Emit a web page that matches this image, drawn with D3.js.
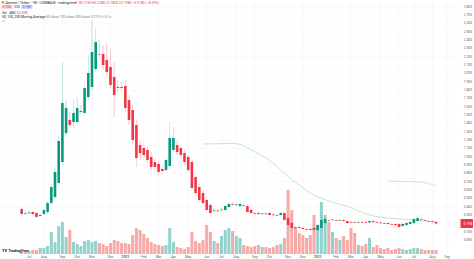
<!DOCTYPE html>
<html><head><meta charset="utf-8">
<script src="https://cdn.jsdelivr.net/npm/d3@7"></script>
<style>html,body{margin:0;padding:0;background:#fff;overflow:hidden}svg{display:block;font-family:Roboto,"Noto Sans",sans-serif}</style>
</head><body><svg id="c" width="474" height="259"></svg>
<script>
const startDate = "2021-06-21";
const opens = [.372,.324,.324,.336,.324,.288,.312,.336,.444,.516,
.684,.936,1.284,1.440,1.416,1.416,1.536,1.524,1.716,1.836,
2.052,2.232,2.232,2.160,2.076,1.956,1.836,1.836,1.848,1.680,
1.560,1.380,1.140,1.104,1.080,.996,.936,.912,.852,.840,
.888,1.080,1.140,1.104,1.044,.996,.936,.756,.636,.564,
.480,.420,.348,.354,.360,.360,.396,.432,.420,.408,
.420,.408,.360,.324,.324,.312,.318,.324,.306,.300,
.300,.324,.264,.204,.156,.156,.144,.132,.132,.144,
.120,.144,.204,.240,.240,.240,.234,.240,.228,.216,
.216,.210,.216,.216,.210,.228,.216,.210,.204,.204,
.192,.192,.192,.168,.180,.192,.204,.228,.252,.240,
.228,.222,.216];
const highs = [.396,.348,.348,.348,.336,.324,.372,.468,.672,.864,
1.260,2.136,1.680,1.536,1.680,1.704,1.620,1.860,2.220,2.640,
2.540,2.400,2.340,2.376,2.280,2.136,1.920,1.896,1.920,1.740,
1.620,1.440,1.200,1.164,1.116,1.056,.984,.960,.900,.984,
1.416,1.356,1.200,1.140,1.080,1.020,.960,.780,.672,.600,
.516,.444,.384,.372,.384,.420,.456,.456,.444,.444,
.444,.432,.372,.336,.336,.336,.336,.336,.324,.312,
.336,.336,.276,.216,.168,.168,.156,.144,.144,.156,
.192,.264,.276,.252,.252,.252,.252,.252,.240,.228,
.228,.228,.228,.228,.240,.240,.228,.228,.216,.216,
.204,.204,.204,.204,.216,.228,.264,.300,.276,.252,
.240,.240,.228];
const lows = [.288,.300,.312,.300,.264,.276,.300,.312,.420,.492,
.660,.900,1.248,1.344,1.344,1.428,1.512,1.500,1.680,1.800,
2.016,2.160,2.040,1.944,1.824,1.476,1.776,1.776,1.536,1.380,
1.140,.876,.960,.984,.924,.840,.816,.780,.792,.816,
.840,1.056,1.020,.984,.900,.816,.600,.540,.456,.420,
.336,.300,.336,.336,.348,.348,.384,.408,.408,.396,
.396,.324,.312,.300,.300,.300,.300,.288,.288,.288,
.288,.228,.168,.132,.132,.132,.120,.108,.108,.108,
.108,.132,.192,.228,.228,.228,.228,.216,.192,.204,
.204,.204,.204,.204,.204,.204,.204,.192,.192,.180,
.180,.168,.144,.156,.168,.180,.192,.216,.228,.228,
.216,.204,.180];
const closes = [.312,.318,.330,.312,.276,.300,.360,.444,.636,.816,
1.188,1.644,1.584,1.380,1.524,1.584,1.548,1.824,2.004,2.256,
2.376,2.226,2.100,2.016,1.860,1.740,1.824,1.824,1.584,1.440,
1.200,.984,1.044,1.020,.960,.876,.876,.816,.828,.960,
1.224,1.224,1.056,1.020,.936,.840,.624,.564,.480,.444,
.360,.324,.354,.348,.366,.408,.432,.426,.426,.432,
.414,.336,.324,.318,.312,.318,.312,.300,.300,.294,
.324,.240,.180,.144,.150,.144,.132,.126,.120,.120,
.180,.240,.252,.234,.246,.234,.240,.228,.204,.210,
.210,.216,.210,.210,.228,.216,.210,.204,.198,.192,
.186,.180,.156,.192,.204,.216,.252,.264,.246,.234,
.222,.216,.198];
const volumes = [31,31,47,62,62,94,94,125,343,187,
437,500,265,375,187,156,125,203,218,187,
203,172,156,125,172,218,203,172,172,156,
296,406,375,312,250,187,156,140,125,140,
406,187,109,94,78,109,343,203,172,218,
453,343,203,172,281,375,406,359,281,250,
140,125,109,125,140,109,109,94,109,140,
156,250,1000,687,422,328,297,250,297,609,
453,812,609,500,344,250,219,281,219,406,
328,140,125,156,250,109,140,94,78,94,
62,78,94,78,62,78,94,94,78,62,
62,62,62];
const priceTicks = [0,0.1,0.2,0.3,0.4,0.5,0.6,0.7,0.8,0.9,1.0,1.1,1.2,1.3,1.4,1.5,1.6,1.7,1.8,1.9,2.0,2.1,2.2,2.3,2.4,2.5,2.6,2.7,2.8];
const timeTickDates = ["2021-07-05","2021-08-02","2021-09-06","2021-10-04","2021-11-01","2021-12-06",
"2022-01-03","2022-02-07","2022-03-07","2022-04-04","2022-05-02","2022-06-06","2022-07-04","2022-08-01","2022-09-05","2022-10-03","2022-11-07","2022-12-05",
"2023-01-02","2023-02-06","2023-03-06","2023-04-03","2023-05-01","2023-06-05","2023-07-03","2023-08-07","2023-09-04"];
const timeTickLabels = ["Jul","Aug","Sep","Oct","Nov","Dec","2022","Feb","Mar","Apr","May","Jun","Jul","Aug","Sep","Oct","Nov","Dec","2023","Feb","Mar","Apr","May","Jun","Jul","Aug","Sep"];
const maPeriods = [50,100,200];

const UP = "#089981", DN = "#f23645", VUP = "#92d2cc", VDN = "#f7a9a7";
const svg = d3.select("#c");
const parse = d3.utcParse("%Y-%m-%d");
const d0 = parse(startDate);
const dates = closes.map((_, i) => d3.utcWeek.offset(d0, i));
const x = d3.scaleUtc().domain([dates[0], dates[dates.length - 1]]).range([21.7, 436.1]);
const y = d3.scaleLinear().domain([0, 2.8]).range([240, 6.67]);
const yv = d3.scaleLinear().domain([0, 1000]).range([254, 190]);
const plotRight = 457;

// grid
const g = svg.append("g");
g.selectAll(".hg").data(priceTicks).join("line")
  .attr("x1", 0).attr("x2", plotRight).attr("y1", d => y(d)).attr("y2", d => y(d))
  .attr("stroke", "#f3f4f6").attr("stroke-width", 0.5);
g.selectAll(".vg").data(timeTickDates).join("line")
  .attr("x1", d => x(parse(d))).attr("x2", d => x(parse(d))).attr("y1", 0).attr("y2", 254)
  .attr("stroke", "#f1f2f4").attr("stroke-width", 0.5);

// volume
const bw = 3.0;
svg.append("g").selectAll("rect").data(volumes).join("rect")
  .attr("x", (d, i) => x(dates[i]) - bw / 2).attr("width", bw)
  .attr("y", d => yv(d)).attr("height", d => yv(0) - yv(d))
  .attr("fill", (d, i) => closes[i] >= opens[i] ? VUP : VDN);

// moving averages
function sma(n) { return closes.map((c, i) => i < n - 1 ? null : d3.mean(closes.slice(i - n + 1, i + 1))); }
const ma50 = sma(maPeriods[0]), ma100 = sma(maPeriods[1]);
const line = d3.line().defined(d => d.v != null).x(d => x(d.t)).y(d => y(d.v));
svg.append("path").attr("d", line(ma50.map((v, i) => ({ t: dates[i], v }))))
  .attr("fill", "none").attr("stroke", "#a8dcb2").attr("stroke-width", 0.7);
svg.append("path").attr("d", line(ma100.map((v, i) => ({ t: dates[i], v }))))
  .attr("fill", "none").attr("stroke", "#cfcfd4").attr("stroke-width", 0.7);

// candles
const cw = 2.6;
const cg = svg.append("g");
closes.forEach((c, i) => {
  const o = opens[i], col = c >= o ? UP : DN, cx = x(dates[i]);
  cg.append("line").attr("x1", cx).attr("x2", cx).attr("y1", y(highs[i])).attr("y2", y(lows[i]))
    .attr("stroke", col).attr("stroke-width", 0.45).attr("opacity", 0.55);
  const top = y(Math.max(o, c)), bot = y(Math.min(o, c));
  cg.append("rect").attr("x", cx - cw / 2).attr("width", cw)
    .attr("y", top).attr("height", Math.max(0.7, bot - top)).attr("fill", col);
});

// price axis
svg.append("g").selectAll("text").data(priceTicks).join("text")
  .attr("x", 472).attr("y", d => y(d) + 1.1).attr("text-anchor", "end")
  .attr("font-size", 3.3).attr("fill", "#5d606b").text(d => d.toFixed(3));
const last = closes.length - 1;
const lc = closes[last], lcol = lc >= opens[last] ? UP : DN;
svg.append("rect").attr("x", 460.5).attr("y", y(lc) - 4.5).attr("width", 12.5).attr("height", 9).attr("fill", lcol).attr("rx", 0.6);
svg.append("text").attr("x", 472).attr("y", y(lc) + 1.2).attr("text-anchor", "end")
  .attr("font-size", 3.3).attr("fill", "#fff").text(lc.toFixed(3));

// time axis
svg.append("g").selectAll("text").data(timeTickDates).join("text")
  .attr("x", d => x(parse(d))).attr("y", 258).attr("text-anchor", "middle")
  .attr("font-size", 3.3).attr("fill", "#5d606b")
  .attr("font-weight", (d, i) => /^\d{4}$/.test(timeTickLabels[i]) ? 600 : 400)
  .text((d, i) => timeTickLabels[i]);

// header
const prevC = closes[last - 1], chg = lc - prevC;
const hd = svg.append("g").attr("font-size", 3.4);
hd.append("circle").attr("cx", 3).attr("cy", 2.4).attr("r", 1.3).attr("fill", "#f7931a");
const t1 = hd.append("text").attr("x", 5.5).attr("y", 3.6).attr("fill", "#131722");
t1.append("tspan").text("Ancient / Tether · 1W · COINBASE · tradingview");
hd.append("circle").attr("cx", 76).attr("cy", 2.4).attr("r", 0.8).attr("fill", DN);
hd.append("text").attr("x", 78.5).attr("y", 3.6).attr("fill", DN)
  .text(`O${opens[last].toFixed(4)}  H${highs[last].toFixed(4)}  L${lows[last].toFixed(4)}  C${lc.toFixed(4)}  ${chg < 0 ? "−" : "+"}${Math.abs(chg).toFixed(4)} (${chg < 0 ? "−" : "+"}${Math.abs(chg / prevC * 100).toFixed(2)}%)`);
// sell/buy boxes
hd.append("rect").attr("x", 1.5).attr("y", 5).attr("width", 11).attr("height", 4).attr("fill", "#fbd5d8").attr("rx", 0.6);
hd.append("text").attr("x", 7).attr("y", 8).attr("text-anchor", "middle").attr("font-size", 2.9).attr("fill", DN).text(lc.toFixed(4));
hd.append("text").attr("x", 17).attr("y", 8).attr("text-anchor", "middle").attr("font-size", 2.9).attr("fill", "#131722").text("0.00");
hd.append("rect").attr("x", 21.5).attr("y", 5).attr("width", 11).attr("height", 4).attr("fill", "#cfd8ff").attr("rx", 0.6);
hd.append("text").attr("x", 27).attr("y", 8).attr("text-anchor", "middle").attr("font-size", 2.9).attr("fill", "#2962ff").text((lc + 0.0001).toFixed(4));
// volume legend
const t3 = hd.append("text").attr("x", 2).attr("y", 14).attr("fill", "#131722");
t3.append("tspan").text("Vol · ANC  ");
t3.append("tspan").attr("fill", DN).text(volumes[last].toFixed(2) + "K");
// MA legend
const t4 = hd.append("text").attr("x", 2).attr("y", 18.3).attr("fill", "#131722");
t4.append("tspan").text("50, 100, 200 Moving Average ");
t4.append("tspan").attr("fill", "#787b86").text(" 50 close 100 close 200 close ");
t4.append("tspan").attr("fill", "#43a047").text(" " + ma50[last].toFixed(3));
t4.append("tspan").attr("fill", "#9e9ea6").text("  " + ma100[last].toFixed(3));
t4.append("tspan").attr("fill", "#787b86").text("  ∅");
hd.append("path").attr("d", "M2.5,21.8 L3.6,20.6 L4.7,21.8").attr("fill", "none").attr("stroke", "#131722").attr("stroke-width", 0.4);

// logo
const lg = svg.append("g");
lg.append("text").attr("x", 2).attr("y", 251.5).attr("font-size", 4).attr("font-weight", 800).attr("fill", "#131722").text("TV");
lg.append("text").attr("x", 8.5).attr("y", 251.5).attr("font-size", 3.6).attr("font-weight", 700).attr("fill", "#131722").text("TradingView");
</script></body></html>
